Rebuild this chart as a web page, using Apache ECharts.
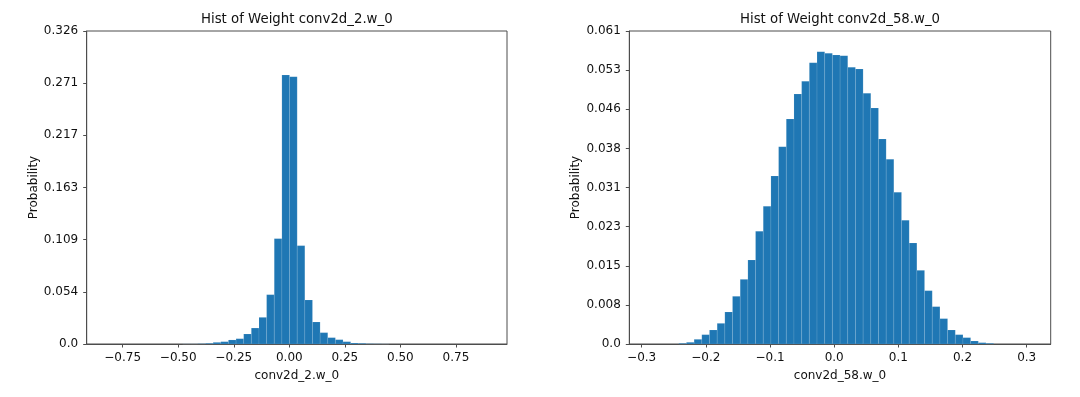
<!DOCTYPE html>
<html>
<head>
<meta charset="utf-8">
<script src="https://cdn.jsdelivr.net/npm/echarts@6/dist/echarts.min.js"></script>
<style>
  html, body { margin: 0; background: #fff; }
  #main { width: 1080px; height: 397px; }
</style>
</head>
<body>
<div id="main"></div>
<script>
// histogram of conv2d_2.w_0 : 50 bins
var leftBinStart = -0.8245;
var leftBinWidth = 0.0344;
var leftValues = [
  0, 0, 0, 0, 0, 0, 0, 0, 0, 0,
  0.0001, 0.0001, 0.0003, 0.0007, 0.0017, 0.0024, 0.0042, 0.0055, 0.0104, 0.0166,
  0.0277, 0.0513, 0.1096, 0.2798, 0.2781, 0.1023, 0.0458, 0.0229, 0.0118, 0.0066,
  0.0045, 0.0024, 0.0010, 0.0007, 0.0003, 0.0002, 0.0001, 0, 0, 0,
  0, 0, 0, 0, 0, 0, 0, 0, 0, 0
];
var leftXTicks = [-0.75, -0.5, -0.25, 0, 0.25, 0.5, 0.75];
var leftYMax = 0.3256;
var leftYLabels = ['0.0', '0.054', '0.109', '0.163', '0.217', '0.271', '0.326'];

// histogram of conv2d_58.w_0 : 50 bins
var rightBinStart = -0.2901;
var rightBinWidth = 0.01197;
var rightValues = [
  0, 0, 0, 0, 0.00013, 0.00033, 0.00091, 0.00182, 0.00273, 0.00403,
  0.00625, 0.00931, 0.01262, 0.01640, 0.02199, 0.02687, 0.03280, 0.03852, 0.04392, 0.04880,
  0.05128, 0.05492, 0.05707, 0.05674, 0.05642, 0.05629, 0.05401, 0.05368, 0.04893, 0.04607,
  0.04002, 0.03605, 0.02961, 0.02414, 0.01972, 0.01438, 0.01041, 0.00729, 0.00495, 0.00273,
  0.00182, 0.00124, 0.00059, 0.00026, 0.00013, 0, 0, 0, 0, 0
];
var rightXTicks = [-0.3, -0.2, -0.1, 0, 0.1, 0.2, 0.3];
var rightYMax = 0.0611;
var rightYLabels = ['0.0', '0.008', '0.015', '0.023', '0.031', '0.038', '0.046', '0.053', '0.061'];

function bins(start, width, vals) {
  return vals.map(function (v, i) {
    return [start + i * width, start + (i + 1) * width, v];
  });
}

var FONT = 'DejaVu Sans';
var TXT = '#111';
var LINE = '#4d4d4d';

function fmtX(dec) {
  return function (v) {
    var s = Math.abs(v).toFixed(dec);
    return v < -1e-9 ? '\u2212' + s : s;
  };
}

function xAxis(grid, min, max, ticks, dec, name) {
  return {
    type: 'value', gridIndex: grid, min: min, max: max,
    name: name, nameLocation: 'middle', nameGap: 26,
    nameTextStyle: { fontFamily: FONT, fontSize: 12, color: TXT },
    axisLine: { onZero: false, lineStyle: { color: LINE, width: 1 } },
    axisTick: { show: true, length: 3.5, inside: false, customValues: ticks, lineStyle: { color: LINE } },
    axisLabel: { customValues: ticks, formatter: fmtX(dec), fontFamily: FONT, fontSize: 12, color: TXT, margin: 7.5 },
    splitLine: { show: false }
  };
}

function yAxis(grid, max, labels, name) {
  var ticks = labels.map(function (l, i) { return i * max / (labels.length - 1); });
  return {
    type: 'value', gridIndex: grid, min: 0, max: max,
    name: name, nameLocation: 'middle', nameGap: 47,
    nameTextStyle: { fontFamily: FONT, fontSize: 12, color: TXT },
    axisLine: { show: true, onZero: false, lineStyle: { color: LINE, width: 1 } },
    axisTick: { show: true, length: 3.5, inside: false, customValues: ticks, lineStyle: { color: LINE } },
    axisLabel: {
      customValues: ticks, fontFamily: FONT, fontSize: 12, color: TXT, margin: 8.5,
      formatter: function (v) {
        var idx = Math.round(v / max * (labels.length - 1));
        return labels[idx];
      }
    },
    splitLine: { show: false }
  };
}

function renderBar(params, api) {
  var h = api.value(2);
  if (!h) return null;
  var p0 = api.coord([api.value(0), h]);
  var p1 = api.coord([api.value(1), 0]);
  return {
    type: 'rect',
    shape: { x: p0[0], y: p0[1], width: p1[0] - p0[0], height: p1[1] - p0[1] },
    style: { fill: '#1f77b4', stroke: 'rgba(255,255,255,0.2)', lineWidth: 0.5 }
  };
}

var chart = echarts.init(document.getElementById('main'));
chart.setOption({
  animation: false,
  backgroundColor: '#fff',
  graphic: [
    { type: 'text', x: 296.8, y: 20, style: { text: 'Hist of Weight conv2d_2.w_0', font: '13.3px "DejaVu Sans"', fill: TXT, align: 'center', verticalAlign: 'middle', textAlign: 'center', textVerticalAlign: 'middle' } },
    { type: 'text', x: 840, y: 20, style: { text: 'Hist of Weight conv2d_58.w_0', font: '13.3px "DejaVu Sans"', fill: TXT, align: 'center', verticalAlign: 'middle', textAlign: 'center', textVerticalAlign: 'middle' } }
  ],
  grid: [
    { left: 86.7, width: 420.3, top: 31, height: 313, show: true, borderColor: LINE, borderWidth: 1, backgroundColor: 'transparent' },
    { left: 629.3, width: 421.4, top: 31, height: 313, show: true, borderColor: LINE, borderWidth: 1, backgroundColor: 'transparent' }
  ],
  xAxis: [
    xAxis(0, -0.912, 0.980, leftXTicks, 2, 'conv2d_2.w_0'),
    xAxis(1, -0.3193, 0.3374, rightXTicks, 1, 'conv2d_58.w_0')
  ],
  yAxis: [
    yAxis(0, leftYMax, leftYLabels, 'Probability'),
    yAxis(1, rightYMax, rightYLabels, 'Probability')
  ],
  series: [
    { type: 'custom', xAxisIndex: 0, yAxisIndex: 0, renderItem: renderBar, encode: { x: [0, 1], y: 2 }, data: bins(leftBinStart, leftBinWidth, leftValues) },
    { type: 'custom', xAxisIndex: 1, yAxisIndex: 1, renderItem: renderBar, encode: { x: [0, 1], y: 2 }, data: bins(rightBinStart, rightBinWidth, rightValues) }
  ]
});
</script>
</body>
</html>
